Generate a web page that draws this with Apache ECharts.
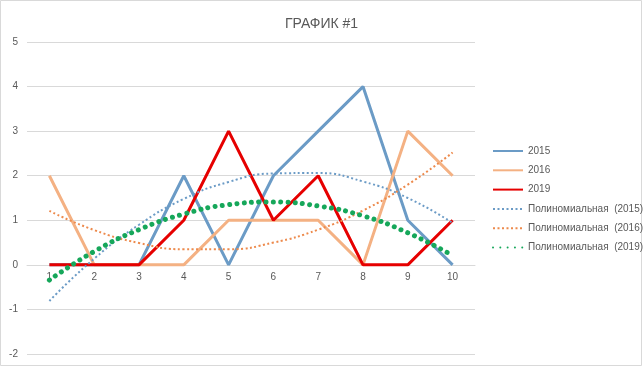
<!DOCTYPE html>
<html>
<head>
<meta charset="utf-8">
<script src="https://cdn.jsdelivr.net/npm/echarts@6/dist/echarts.min.js"></script>
<style>
html,body{margin:0;padding:0;background:#fff;}
#c{width:643px;height:367px;}
</style>
</head>
<body>
<div id="c"></div>
<script>
const categories = ['1','2','3','4','5','6','7','8','9','10'];
const yTicks = [-2,-1,0,1,2,3,4,5];
const s2015 = [0,0,0,2,0,2,3,4,1,0];
const s2016 = [2,0,0,0,1,1,1,0,3,2];
const s2019 = [0,0,0,1,3,1,2,0,0,1];
const trend2015 = [-0.81,0.14,0.90,1.48,1.86,2.05,2.06,1.87,1.50,0.94];
const trend2016 = [1.21,0.78,0.49,0.35,0.35,0.50,0.79,1.22,1.80,2.52];
const trend2019 = [-0.34,0.30,0.79,1.14,1.35,1.41,1.32,1.10,0.72,0.21];
const names = ['2015','2016','2019','Полиномиальная  (2015)','Полиномиальная  (2016)','Полиномиальная  (2019)'];

const W = 643, H = 367;
const gridTop = 42, gridBottom = 13;
const yMin = yTicks[0], yMax = yTicks[yTicks.length-1];
const plotH = H - gridTop - gridBottom;
const xAxisOffset = -((0 - yMin) / (yMax - yMin)) * plotH;

const chart = echarts.init(document.getElementById('c'), null, {renderer:'canvas'});
const txt = '#595959';
const font = 'Liberation Sans';
chart.setOption({
  animation:false,
  backgroundColor:'#fff',
  graphic:[{type:'rect',shape:{x:0.5,y:0.5,width:641,height:365},style:{fill:'none',stroke:'#d9d9d9',lineWidth:1},silent:true,z:-1}],
  title:{text:'ГРАФИК #1',left:'center',top:12,textStyle:{color:txt,fontSize:14,fontWeight:'normal',fontFamily:font}},
  grid:{left:27,right:168,top:gridTop,bottom:gridBottom,containLabel:false},
  legend:{
    orient:'vertical',left:492,top:146,padding:0,itemWidth:30,itemHeight:8,itemGap:9.3,
    itemStyle:{opacity:0},
    textStyle:{color:txt,fontSize:10,fontFamily:font,overflow:'none',width:130},
    data:names
  },
  xAxis:{type:'category',data:categories,boundaryGap:true,position:'bottom',offset:xAxisOffset,
    axisLine:{onZero:false,lineStyle:{color:'#d9d9d9',width:1}},
    axisTick:{show:false},
    axisLabel:{color:txt,fontSize:10,fontFamily:font,margin:7}
  },
  yAxis:{type:'value',min:yMin,max:yMax,interval:1,
    axisLine:{show:false},axisTick:{show:false},
    splitLine:{lineStyle:{color:'#d9d9d9',width:1}},
    axisLabel:{color:txt,fontSize:10,fontFamily:font,margin:9}
  },
  series:[
    {name:names[0],type:'line',data:s2015,symbol:'none',lineStyle:{color:'#6b9bc6',width:3},itemStyle:{color:'#6b9bc6'}},
    {name:names[1],type:'line',data:s2016,symbol:'none',lineStyle:{color:'#f4b183',width:3},itemStyle:{color:'#f4b183'}},
    {name:names[2],type:'line',data:s2019,symbol:'none',lineStyle:{color:'#e60000',width:3},itemStyle:{color:'#e60000'}},
    {name:names[3],type:'line',data:trend2015,symbol:'none',smooth:true,lineStyle:{color:'#6b9bc6',width:2,type:[2,2.5]},itemStyle:{color:'#6b9bc6'}},
    {name:names[4],type:'line',data:trend2016,symbol:'none',smooth:true,lineStyle:{color:'#ed8a4c',width:2,type:[2,2.5]},itemStyle:{color:'#ed8a4c'}},
    {name:names[5],type:'line',data:trend2019,symbol:'none',smooth:true,lineStyle:{color:'#16a75a',width:5,type:[0.01,7.3],cap:'round'},itemStyle:{color:'#16a75a'}}
  ]
});
</script>
</body>
</html>
